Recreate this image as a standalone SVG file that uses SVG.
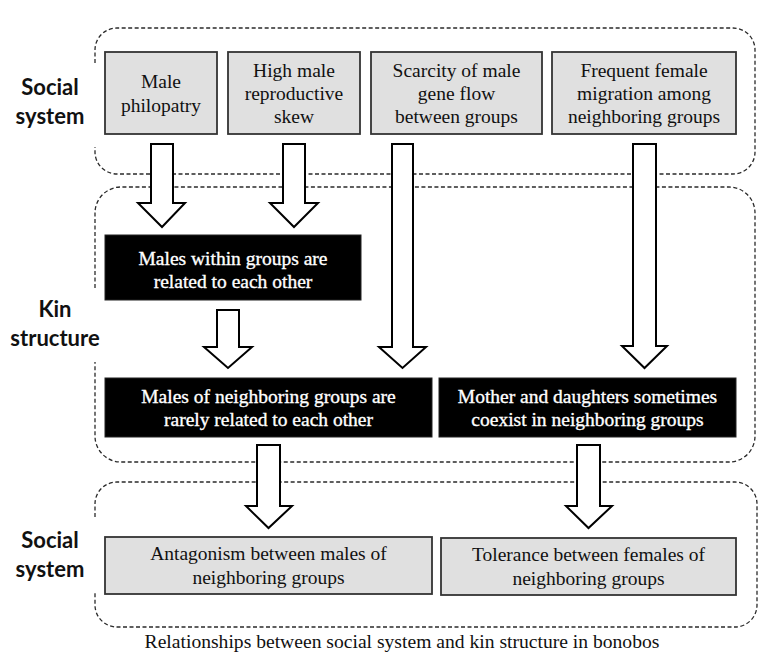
<svg xmlns="http://www.w3.org/2000/svg" width="766" height="666" viewBox="0 0 766 666">
<style>
.cont{fill:none;stroke:#2a2a2a;stroke-width:1.3;stroke-dasharray:4 2.5}
.gray{fill:#e0e0e0;stroke:#333;stroke-width:1.8}
.blk{fill:#000;stroke:#222;stroke-width:1}
.arr{fill:#fff;stroke:#000;stroke-width:2;stroke-linejoin:miter}
.lab{font-weight:bold;font-size:22px;fill:#111;text-anchor:middle}
.wt{fill:#fff;stroke:#fff;stroke-width:0.35}
</style>
<rect width="766" height="666" fill="#fff"/>
<g id="containers">
<path class="cont" d="M95,63 V50 A22,22 0 0 1 117,28 H733 A22,22 0 0 1 755,50 V152 A22,22 0 0 1 733,174 H117 A22,22 0 0 1 95,152 V147"/>
<path class="cont" d="M95,288 V213 A26,26 0 0 1 121,187 H729 A26,26 0 0 1 755,213 V436 A26,26 0 0 1 729,462 H121 A26,26 0 0 1 95,436 V362"/>
<path class="cont" d="M95,517 V504 A22,22 0 0 1 117,482 H735 A22,22 0 0 1 757,504 V605 A22,22 0 0 1 735,627 H117 A22,22 0 0 1 95,605 V592"/>
</g>
<g id="labels" font-family="Lato, 'Open Sans', sans-serif">
<text class="lab" x="50" y="95">Social</text>
<text class="lab" x="50" y="124">system</text>
<text class="lab" x="55" y="317">Kin</text>
<text class="lab" x="55" y="346">structure</text>
<text class="lab" x="50" y="548">Social</text>
<text class="lab" x="50" y="577">system</text>
</g>
<g id="nodes" font-family="Liberation Serif, Times New Roman, serif" font-size="19.5" text-anchor="middle" fill="#111">
<g id="n1"><rect class="gray" x="105" y="52" width="112" height="82"/>
<text x="161" y="88">Male</text><text x="161" y="112">philopatry</text></g>
<g id="n2"><rect class="gray" x="228" y="52" width="132" height="82"/>
<text x="294" y="77">High male</text><text x="294" y="100">reproductive</text><text x="294" y="123">skew</text></g>
<g id="n3"><rect class="gray" x="371" y="52" width="171" height="82"/>
<text x="456.5" y="77">Scarcity of male</text><text x="456.5" y="100">gene flow</text><text x="456.5" y="123">between groups</text></g>
<g id="n4"><rect class="gray" x="552" y="52" width="184" height="82"/>
<text x="644" y="77">Frequent female</text><text x="644" y="100">migration among</text><text x="644" y="123">neighboring groups</text></g>
<g id="n5"><rect class="blk" x="105" y="235" width="256" height="65"/>
<text class="wt" x="233" y="265">Males within groups are</text><text class="wt" x="233" y="288">related to each other</text></g>
<g id="n6"><rect class="blk" x="105" y="378" width="327" height="59"/>
<text class="wt" x="268.5" y="403">Males of neighboring groups are</text><text class="wt" x="268.5" y="426">rarely related to each other</text></g>
<g id="n7"><rect class="blk" x="439" y="378" width="297" height="59"/>
<text class="wt" x="587.5" y="403">Mother and daughters sometimes</text><text class="wt" x="587.5" y="426">coexist in neighboring groups</text></g>
<g id="n8"><rect class="gray" x="105" y="537" width="327" height="57"/>
<text x="268.5" y="560">Antagonism between males of</text><text x="268.5" y="584">neighboring groups</text></g>
<g id="n9"><rect class="gray" x="441" y="538" width="295" height="57"/>
<text x="588.5" y="561">Tolerance between females of</text><text x="588.5" y="585">neighboring groups</text></g>
</g>
<g id="connectors">
<polygon class="arr" points="151,144 173,144 173,203 185,203 162,227 138,203 151,203"/>
<polygon class="arr" points="283,144 305,144 305,203 318,203 294,227 270,203 283,203"/>
<polygon class="arr" points="392,144 413,144 413,347 426,347 402.5,368 379,347 392,347"/>
<polygon class="arr" points="633,144 656,144 656,346 667,346 644.5,368 622,346 633,346"/>
<polygon class="arr" points="217,310 239,310 239,347 252,347 228,368 204,347 217,347"/>
<polygon class="arr" points="257,445 280,445 280,506 292,506 268.5,528 246,506 257,506"/>
<polygon class="arr" points="577,445 600,445 600,506 612,506 588.5,528 566,506 577,506"/>
</g>
<text font-family="Liberation Serif, Times New Roman, serif" font-size="19.6" fill="#111" text-anchor="middle" x="402" y="648">Relationships between social system and kin structure in bonobos</text>
</svg>
